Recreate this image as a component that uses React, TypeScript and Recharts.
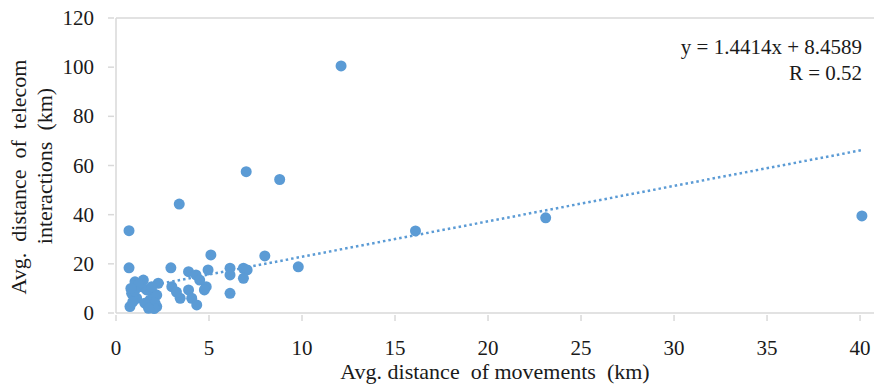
import { ScatterChart, Scatter, XAxis, YAxis, ReferenceLine, Customized } from "recharts";

const movementKm = [
  0.7, 0.7, 3.4, 7.0, 8.8, 12.1, 16.1, 23.1, 40.1,
  2.95, 5.1, 8.0, 9.8,
  3.9, 4.3, 4.95, 4.5, 4.85, 4.75,
  6.13, 6.13, 6.85, 7.05, 6.85, 6.13,
  3.0, 3.45, 3.9, 4.07, 4.34, 3.25,
  2.27, 1.02, 1.47, 0.75, 1.83, 2.19, 0.84, 2.0, 1.65, 1.11, 1.83, 2.19, 1.38, 1.92, 0.9, 2.1, 1.2,
  1.0, 1.55, 2.05, 0.8, 1.75,
];
const telecomKm = [
  33.5, 18.4, 44.3, 57.5, 54.3, 100.5, 33.4, 38.7, 39.5,
  18.4, 23.6, 23.2, 18.8,
  16.8, 15.5, 17.5, 13.4, 10.7, 9.4,
  18.2, 15.5, 18.2, 17.5, 14.1, 8.0,
  10.7, 6.0, 9.4, 6.0, 3.3, 8.5,
  12.1, 12.7, 13.4, 2.6, 2.6, 2.6, 8.0, 8.0, 9.4, 6.0, 5.3, 7.3, 10.7, 10.7, 4.5, 4.0, 11.5,
  9.0, 4.0, 1.8, 10.0, 1.9,
];
const xTicks = [0, 5, 10, 15, 20, 25, 30, 35, 40];
const yTicks = [0, 20, 40, 60, 80, 100, 120];
const slope = 1.4414;
const intercept = 8.4589;
const rValue = 0.52;

const points = movementKm.map((x, i) => ({ x, y: telecomKm[i] }));
const xMin = Math.min(...movementKm);
const xMax = Math.max(...movementKm);

const blue = "#5B9BD5";
const axisGray = "#D9D9D9";
const font = "'Liberation Serif', 'Times New Roman', serif";
const nb = "\u00A0";

const XTick = ({ x, y, payload }: any) => (
  <g>
    <line x1={x} x2={x} y1={y} y2={y - 6} stroke={axisGray} strokeWidth={1.5} />
    <text x={x} y={y + 34} textAnchor="middle" fontFamily={font} fontSize={21} fill="#1a1a1a">
      {payload.value}
    </text>
  </g>
);

const YTick = ({ x, y, payload }: any) => (
  <g>
    <line x1={x} x2={x + 6} y1={y} y2={y} stroke={axisGray} strokeWidth={1.5} />
    <text x={x - 14} y={y + 7} textAnchor="end" fontFamily={font} fontSize={21} fill="#1a1a1a">
      {payload.value}
    </text>
  </g>
);

export default function App() {
  return (
    <div style={{ position: "absolute", left: 0, top: 0, background: "#fff" }}>
      <ScatterChart width={874} height={387} margin={{ top: 18, right: 0, bottom: 0, left: 0 }}>
        <XAxis
          type="number"
          dataKey="x"
          domain={[0, 40.75]}
          ticks={xTicks}
          height={74}
          axisLine={{ stroke: axisGray, strokeWidth: 1.5 }}
          tickLine={false}
          tick={<XTick />}
          label={{ value: `Avg.${nb}distance${nb}${nb}of${nb}movements${nb}${nb}(km)`, position: "insideBottom", offset: 8, fontFamily: font, fontSize: 22, fill: "#1a1a1a" }}
        />
        <YAxis
          type="number"
          dataKey="y"
          domain={[0, 120]}
          ticks={yTicks}
          width={116}
          axisLine={{ stroke: axisGray, strokeWidth: 1.5 }}
          tickLine={false}
          tick={<YTick />}
        />
        <ReferenceLine y={120} stroke={axisGray} strokeWidth={1.5} />
        <ReferenceLine
          segment={[
            { x: xMin, y: slope * xMin + intercept },
            { x: xMax, y: slope * xMax + intercept },
          ]}
          stroke={blue}
          strokeWidth={2.5}
          strokeDasharray="2.5 3"
        />
        <Scatter data={points} fill={blue} isAnimationActive={false} shape={(p: any) => <circle cx={p.cx} cy={p.cy} r={5.5} fill={blue} />} />
        <Customized
          component={() => (
            <g fontFamily={font} fill="#1a1a1a">
              <text x={19} y={177} fontSize={22} textAnchor="middle" transform="rotate(-90 19 177)" dy={7}>
                {`Avg.${nb}${nb}distance${nb}${nb}of${nb}${nb}telecom`}
              </text>
              <text x={45} y={166} fontSize={22} textAnchor="middle" transform="rotate(-90 45 166)" dy={7}>
                {`interactions${nb}${nb}(km)`}
              </text>
              <text x={862} y={54} fontSize={21} textAnchor="end">
                {`y = ${slope}x + ${intercept}`}
              </text>
              <text x={862} y={80} fontSize={21} textAnchor="end">
                {`R = ${rValue}`}
              </text>
            </g>
          )}
        />
      </ScatterChart>
    </div>
  );
}
